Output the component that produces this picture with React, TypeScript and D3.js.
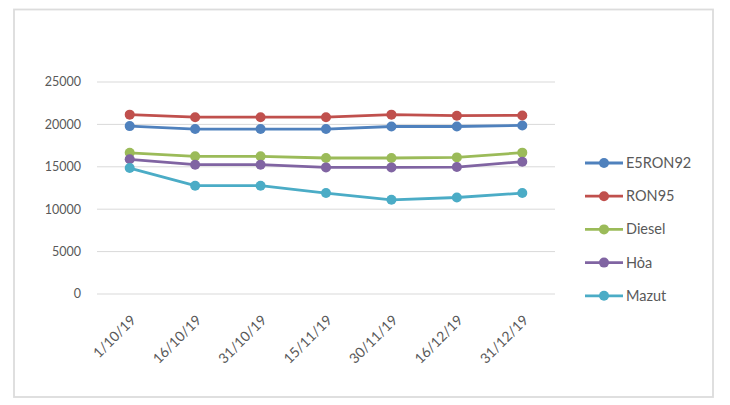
import React from "react";
import * as d3 from "d3";

const categories = ["1/10/19", "16/10/19", "31/10/19", "15/11/19", "30/11/19", "16/12/19", "31/12/19"];
const seriesNames = ["E5RON92", "RON95", "Diesel", "Hỏa", "Mazut"];
const e5ron92 = [19800, 19450, 19450, 19450, 19750, 19750, 19880];
const ron95 = [21150, 20850, 20850, 20850, 21150, 21030, 21060];
const diesel = [16650, 16230, 16230, 16040, 16040, 16110, 16670];
const hoa = [15880, 15250, 15250, 14930, 14930, 14970, 15600];
const mazut = [14850, 12770, 12770, 11900, 11110, 11380, 11900];
const yTicks = [0, 5000, 10000, 15000, 20000, 25000];
const colors = ["#4F81BD", "#C0504D", "#9BBB59", "#8064A2", "#4BACC6"];

const W = 730, H = 405;
const plot = { left: 97, right: 555, top: 82, bottom: 294 };

export default function App() {
  const data = [e5ron92, ron95, diesel, hoa, mazut];
  const x = d3.scaleBand<string>().domain(categories).range([plot.left, plot.right]);
  const y = d3.scaleLinear().domain([0, 25000]).range([plot.bottom, plot.top]);
  const line = d3.line<number>()
    .x((_, i) => (x(categories[i]) as number) + x.bandwidth() / 2)
    .y((d) => y(d));
  const font = "Lato, 'Open Sans', sans-serif";
  const textColor = "#595959";
  return (
    <svg width={W} height={H} style={{ position: "absolute", left: 0, top: 0, background: "#fff" }}>
      <rect x={14} y={9.5} width={699} height={387.5} fill="#fff" stroke="#dcdcdc" strokeWidth={1.8} />
      {yTicks.map((t) => (
        <g key={t}>
          <line x1={plot.left} x2={plot.right} y1={y(t)} y2={y(t)} stroke="#d9d9d9" strokeWidth={1} />
          <text x={81} y={y(t)} dy="0.35em" textAnchor="end" fontFamily={font} fontSize={12.5} fill={textColor}>
            {t}
          </text>
        </g>
      ))}
      {categories.map((c) => {
        const cx = (x(c) as number) + x.bandwidth() / 2;
        return (
          <text key={c} transform={`translate(${cx + 7},${321}) rotate(-45)`} textAnchor="end"
            fontFamily={font} fontSize={14} fill={textColor}>
            {c}
          </text>
        );
      })}
      {data.map((s, k) => (
        <g key={seriesNames[k]}>
          <path d={line(s) as string} fill="none" stroke={colors[k]} strokeWidth={2.8} strokeLinejoin="round" />
          {s.map((v, i) => (
            <circle key={i} cx={(x(categories[i]) as number) + x.bandwidth() / 2} cy={y(v)} r={5} fill={colors[k]} />
          ))}
        </g>
      ))}
      {seriesNames.map((n, k) => {
        const ly = 163 + k * 33.2;
        return (
          <g key={n}>
            <line x1={585} x2={623} y1={ly} y2={ly} stroke={colors[k]} strokeWidth={2.8} />
            <circle cx={604} cy={ly} r={5} fill={colors[k]} />
            <text x={626} y={ly} dy="0.35em" fontFamily={font} fontSize={14.5} fill={textColor}>{n}</text>
          </g>
        );
      })}
    </svg>
  );
}
